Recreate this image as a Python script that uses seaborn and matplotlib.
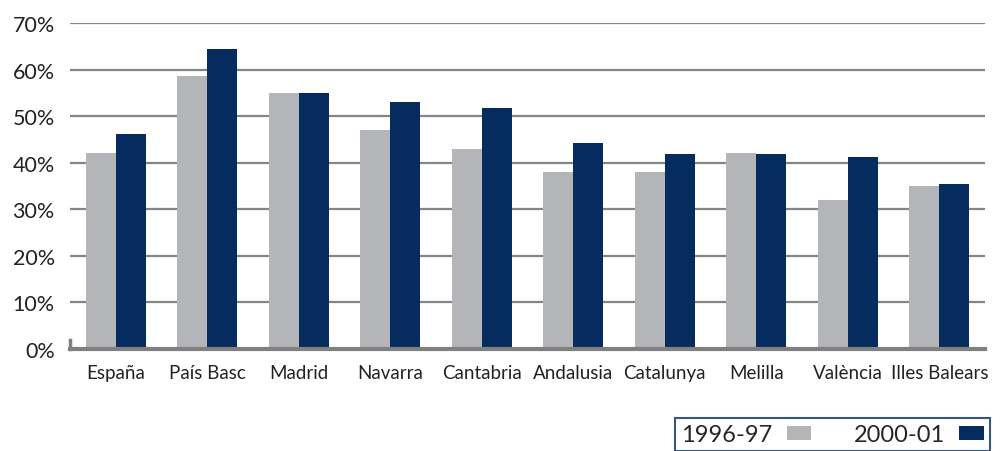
import pandas as pd
import matplotlib.pyplot as plt
import seaborn as sns

regions = ["España", "País Basc", "Madrid", "Navarra", "Cantabria",
           "Andalusia", "Catalunya", "Melilla", "València", "Illes Balears"]
v_1996 = [42, 58.5, 55, 47, 43, 38, 38, 42, 32, 35]
v_2000 = [46.2, 64.3, 55, 53, 51.7, 44.2, 41.8, 41.8, 41.2, 35.4]
periods = ["1996-97", "2000-01"]
yticks = [0, 10, 20, 30, 40, 50, 60, 70]

df = pd.DataFrame({
    "region": regions * 2,
    "period": [periods[0]] * len(regions) + [periods[1]] * len(regions),
    "value": v_1996 + v_2000,
})

sns.set_style("white")
plt.rcParams["font.family"] = ["Lato", "DejaVu Sans"]

fig = plt.figure(figsize=(10, 4.52), dpi=100)
ax = fig.add_axes([0.07, 0.226, 0.915, 0.721])

gray = "#b4b5b8"
navy = "#062c5f"

for y in yticks[1:]:
    ax.axhline(y, color="#858585", lw=1.6, zorder=0)

sns.barplot(data=df, x="region", y="value", hue="period",
            palette=[gray, navy], width=0.66, saturation=1,
            linewidth=0, ax=ax, zorder=2)

ax.set_ylim(0, 70)
ax.set_xlim(-0.5, 9.5)
ax.set_yticks(yticks)
ax.set_yticklabels([f"{t}%" for t in yticks], fontsize=15.5, color="#222222")
ax.tick_params(axis="x", labelsize=13.5, colors="#222222", pad=11, length=0)
ax.tick_params(axis="y", length=0, pad=11)
ax.set_xlabel("")
ax.set_ylabel("")

for s in ["top", "right"]:
    ax.spines[s].set_visible(False)
ax.spines["bottom"].set_color("#808080")
ax.spines["bottom"].set_linewidth(3)
ax.spines["left"].set_color("#808080")
ax.spines["left"].set_linewidth(2.5)
ax.spines["left"].set_bounds(0, 2)

handles, labels = ax.get_legend_handles_labels()
ax.legend_.remove()
leg = fig.legend(handles, labels, ncol=2, loc="lower right",
                 bbox_to_anchor=(0.99, 0.0), bbox_transform=fig.transFigure,
                 markerfirst=False, fancybox=False, frameon=True,
                 edgecolor=navy, fontsize=17, handlelength=1.05,
                 handleheight=0.55, columnspacing=1.8, borderaxespad=0,
                 borderpad=0.25, handletextpad=0.6)
leg.get_frame().set_linewidth(1.5)

fig.savefig("out.png", dpi=100)
